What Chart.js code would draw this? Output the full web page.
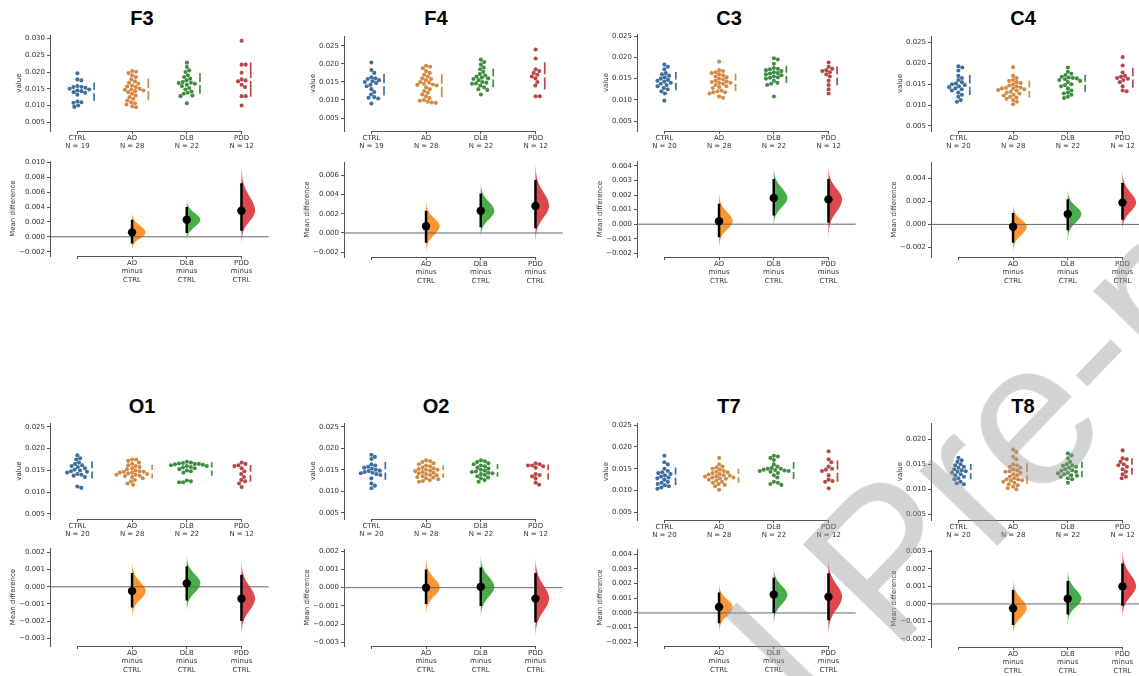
<!DOCTYPE html>
<html lang="en">
<head>
<meta charset="UTF-8"/>
<title>EEG relative power – estimation plots</title>
<style>
  body { margin: 0; width: 1139px; height: 676px; overflow: hidden; position: relative; background: #fff; font-family: 'DejaVu Sans', sans-serif; }
  canvas { position: absolute; }
  .title { position: absolute; width: 80px; margin-left: -40px; height: 22px; line-height: 22px; text-align: center; font: bold 20px 'Liberation Sans', Arial, sans-serif; color: #000; }
  .watermark { position: absolute; left: 885px; top: 560px; transform: translate(-50%, -50%) rotate(-46deg); font: 205px 'Liberation Sans', Arial, sans-serif; color: rgba(150,150,150,0.42); white-space: nowrap; pointer-events: none; z-index: 5; }
</style>
<script src="https://cdn.jsdelivr.net/npm/chart.js"></script>
</head>
<body>
<div class="watermark">Journal Pre-proof</div>
<script>
const groupNames = ['CTRL', 'AD', 'DLB', 'PDD'];
const deltaNames = ['AD', 'DLB', 'PDD'];

// F3
const f3Ctrl = [0.0196, 0.0178, 0.0175, 0.0158, 0.0156, 0.0155, 0.0153, 0.0150, 0.0148, 0.0145, 0.0143, 0.0140, 0.0138, 0.0132, 0.0112, 0.0110, 0.0108, 0.0100, 0.0096];
const f3Ad = [0.0203, 0.0201, 0.0197, 0.0190, 0.0185, 0.0178, 0.0172, 0.0168, 0.0165, 0.0160, 0.0157, 0.0155, 0.0150, 0.0148, 0.0147, 0.0145, 0.0143, 0.0140, 0.0135, 0.0130, 0.0125, 0.0120, 0.0115, 0.0110, 0.0107, 0.0103, 0.0098, 0.0095];
const f3Dlb = [0.0228, 0.0215, 0.0205, 0.0200, 0.0190, 0.0185, 0.0180, 0.0175, 0.0170, 0.0168, 0.0167, 0.0165, 0.0162, 0.0158, 0.0152, 0.0148, 0.0142, 0.0138, 0.0135, 0.0130, 0.0128, 0.0107];
const f3Pdd = [0.0293, 0.0222, 0.0222, 0.0198, 0.0178, 0.0175, 0.0172, 0.0162, 0.0155, 0.0128, 0.0128, 0.0100];
const f3Diff = [0.0006, 0.0023, 0.0035];
const f3Low = [-0.0009, 0.0005, 0.0008];
const f3High = [0.0023, 0.0040, 0.0072];
const f3ValueTicks = [0.005, 0.010, 0.015, 0.020, 0.025, 0.030];
const f3DiffTicks = [-0.002, 0.000, 0.002, 0.004, 0.006, 0.008, 0.010];

// F4
const f4Ctrl = [0.0204, 0.0183, 0.0175, 0.0163, 0.0160, 0.0158, 0.0155, 0.0152, 0.0150, 0.0147, 0.0142, 0.0138, 0.0130, 0.0122, 0.0115, 0.0108, 0.0106, 0.0104, 0.0090];
const f4Ad = [0.0195, 0.0192, 0.0188, 0.0180, 0.0175, 0.0170, 0.0165, 0.0160, 0.0158, 0.0155, 0.0150, 0.0148, 0.0145, 0.0143, 0.0142, 0.0140, 0.0135, 0.0130, 0.0125, 0.0120, 0.0115, 0.0110, 0.0105, 0.0100, 0.0098, 0.0095, 0.0093, 0.0092];
const f4Dlb = [0.0212, 0.0205, 0.0198, 0.0190, 0.0185, 0.0178, 0.0172, 0.0168, 0.0165, 0.0162, 0.0160, 0.0158, 0.0155, 0.0150, 0.0148, 0.0146, 0.0145, 0.0140, 0.0135, 0.0130, 0.0128, 0.0115];
const f4Pdd = [0.0240, 0.0215, 0.0185, 0.0180, 0.0175, 0.0170, 0.0165, 0.0160, 0.0150, 0.0140, 0.0110, 0.0110];
const f4Diff = [0.0007, 0.0023, 0.0028];
const f4Low = [-0.0010, 0.0006, 0.0005];
const f4High = [0.0023, 0.0041, 0.0055];
const f4ValueTicks = [0.005, 0.010, 0.015, 0.020, 0.025];
const f4DiffTicks = [-0.002, 0.000, 0.002, 0.004, 0.006];

// C3
const c3Ctrl = [0.0183, 0.0178, 0.0172, 0.0163, 0.0160, 0.0157, 0.0153, 0.0150, 0.0147, 0.0145, 0.0143, 0.0140, 0.0138, 0.0135, 0.0132, 0.0128, 0.0125, 0.0120, 0.0115, 0.0098];
const c3Ad = [0.0190, 0.0170, 0.0168, 0.0165, 0.0163, 0.0160, 0.0158, 0.0155, 0.0153, 0.0150, 0.0148, 0.0145, 0.0143, 0.0142, 0.0140, 0.0140, 0.0138, 0.0135, 0.0132, 0.0130, 0.0128, 0.0122, 0.0120, 0.0118, 0.0118, 0.0115, 0.0108, 0.0105];
const c3Dlb = [0.0198, 0.0195, 0.0185, 0.0175, 0.0173, 0.0172, 0.0170, 0.0168, 0.0165, 0.0163, 0.0162, 0.0160, 0.0158, 0.0155, 0.0153, 0.0152, 0.0150, 0.0145, 0.0140, 0.0138, 0.0135, 0.0108];
const c3Pdd = [0.0188, 0.0178, 0.0173, 0.0170, 0.0168, 0.0165, 0.0160, 0.0155, 0.0145, 0.0135, 0.0125, 0.0115];
const c3Diff = [0.0002, 0.0018, 0.0017];
const c3Low = [-0.0009, 0.0006, 0.0001];
const c3High = [0.0014, 0.0031, 0.0031];
const c3ValueTicks = [0.005, 0.010, 0.015, 0.020, 0.025];
const c3DiffTicks = [-0.002, -0.001, 0.000, 0.001, 0.002, 0.003, 0.004];

// C4
const c4Ctrl = [0.0193, 0.0190, 0.0183, 0.0170, 0.0165, 0.0160, 0.0155, 0.0152, 0.0150, 0.0148, 0.0145, 0.0143, 0.0140, 0.0138, 0.0135, 0.0130, 0.0125, 0.0120, 0.0112, 0.0108];
const c4Ad = [0.0191, 0.0170, 0.0165, 0.0160, 0.0158, 0.0155, 0.0153, 0.0150, 0.0147, 0.0145, 0.0142, 0.0141, 0.0140, 0.0140, 0.0138, 0.0136, 0.0135, 0.0132, 0.0130, 0.0128, 0.0125, 0.0123, 0.0120, 0.0118, 0.0115, 0.0112, 0.0108, 0.0102];
const c4Dlb = [0.0190, 0.0180, 0.0175, 0.0172, 0.0168, 0.0166, 0.0165, 0.0164, 0.0162, 0.0160, 0.0158, 0.0155, 0.0150, 0.0148, 0.0145, 0.0140, 0.0135, 0.0130, 0.0128, 0.0125, 0.0120, 0.0117];
const c4Pdd = [0.0215, 0.0195, 0.0178, 0.0170, 0.0168, 0.0165, 0.0163, 0.0160, 0.0155, 0.0145, 0.0135, 0.0133];
const c4Diff = [-0.0002, 0.0009, 0.0019];
const c4Low = [-0.0016, -0.0005, 0.0004];
const c4High = [0.0010, 0.0022, 0.0036];
const c4ValueTicks = [0.005, 0.010, 0.015, 0.020, 0.025];
const c4DiffTicks = [-0.002, 0.000, 0.002, 0.004];

// O1
const o1Ctrl = [0.0185, 0.0178, 0.0175, 0.0168, 0.0165, 0.0162, 0.0160, 0.0158, 0.0155, 0.0152, 0.0150, 0.0148, 0.0147, 0.0145, 0.0142, 0.0140, 0.0138, 0.0135, 0.0113, 0.0110];
const o1Ad = [0.0175, 0.0175, 0.0172, 0.0168, 0.0165, 0.0162, 0.0160, 0.0158, 0.0155, 0.0153, 0.0150, 0.0148, 0.0147, 0.0147, 0.0145, 0.0145, 0.0143, 0.0142, 0.0140, 0.0140, 0.0138, 0.0137, 0.0135, 0.0132, 0.0128, 0.0125, 0.0120, 0.0117];
const o1Dlb = [0.0170, 0.0168, 0.0167, 0.0166, 0.0165, 0.0165, 0.0164, 0.0163, 0.0162, 0.0160, 0.0160, 0.0158, 0.0157, 0.0155, 0.0153, 0.0150, 0.0148, 0.0145, 0.0127, 0.0125, 0.0123, 0.0123];
const o1Pdd = [0.0168, 0.0165, 0.0162, 0.0160, 0.0155, 0.0148, 0.0142, 0.0135, 0.0128, 0.0125, 0.0120, 0.0112];
const o1Diff = [-0.00025, 0.0002, -0.0007];
const o1Low = [-0.0012, -0.0008, -0.0020];
const o1High = [0.0008, 0.0012, 0.0007];
const o1ValueTicks = [0.005, 0.010, 0.015, 0.020, 0.025];
const o1DiffTicks = [-0.003, -0.002, -0.001, 0.000, 0.001, 0.002];

// O2
const o2Ctrl = [0.0185, 0.0180, 0.0175, 0.0163, 0.0160, 0.0157, 0.0155, 0.0153, 0.0150, 0.0148, 0.0147, 0.0145, 0.0143, 0.0142, 0.0140, 0.0138, 0.0130, 0.0118, 0.0113, 0.0107];
const o2Ad = [0.0172, 0.0170, 0.0168, 0.0165, 0.0163, 0.0160, 0.0158, 0.0155, 0.0153, 0.0152, 0.0150, 0.0150, 0.0148, 0.0147, 0.0145, 0.0143, 0.0142, 0.0140, 0.0138, 0.0137, 0.0135, 0.0133, 0.0132, 0.0130, 0.0128, 0.0126, 0.0124, 0.0122];
const o2Dlb = [0.0172, 0.0170, 0.0168, 0.0165, 0.0163, 0.0160, 0.0158, 0.0155, 0.0153, 0.0150, 0.0148, 0.0146, 0.0145, 0.0143, 0.0142, 0.0140, 0.0138, 0.0135, 0.0132, 0.0130, 0.0126, 0.0122];
const o2Pdd = [0.0165, 0.0163, 0.0160, 0.0160, 0.0158, 0.0155, 0.0140, 0.0138, 0.0135, 0.0130, 0.0120, 0.0115];
const o2Diff = [0.0000, 0.00005, -0.0006];
const o2Low = [-0.0009, -0.0010, -0.0019];
const o2High = [0.0010, 0.0011, 0.0008];
const o2ValueTicks = [0.005, 0.010, 0.015, 0.020, 0.025];
const o2DiffTicks = [-0.003, -0.002, -0.001, 0.000, 0.001, 0.002];

// T7
const t7Ctrl = [0.0180, 0.0165, 0.0160, 0.0150, 0.0145, 0.0142, 0.0140, 0.0138, 0.0135, 0.0132, 0.0130, 0.0128, 0.0125, 0.0120, 0.0118, 0.0115, 0.0112, 0.0110, 0.0107, 0.0104];
const t7Ad = [0.0175, 0.0160, 0.0155, 0.0153, 0.0150, 0.0148, 0.0145, 0.0143, 0.0142, 0.0140, 0.0138, 0.0137, 0.0135, 0.0134, 0.0133, 0.0132, 0.0130, 0.0130, 0.0128, 0.0127, 0.0125, 0.0123, 0.0120, 0.0118, 0.0115, 0.0113, 0.0110, 0.0102];
const t7Dlb = [0.0180, 0.0178, 0.0175, 0.0170, 0.0160, 0.0155, 0.0152, 0.0150, 0.0150, 0.0148, 0.0147, 0.0146, 0.0145, 0.0145, 0.0143, 0.0140, 0.0135, 0.0130, 0.0120, 0.0118, 0.0115, 0.0113];
const t7Pdd = [0.0190, 0.0172, 0.0165, 0.0155, 0.0150, 0.0148, 0.0145, 0.0135, 0.0125, 0.0122, 0.0120, 0.0105];
const t7Diff = [0.0004, 0.00125, 0.0011];
const t7Low = [-0.0007, 0.0000, -0.0005];
const t7High = [0.0014, 0.0024, 0.0027];
const t7ValueTicks = [0.005, 0.010, 0.015, 0.020, 0.025];
const t7DiffTicks = [-0.002, -0.001, 0.000, 0.001, 0.002, 0.003, 0.004];

// T8
const t8Ctrl = [0.0163, 0.0158, 0.0155, 0.0150, 0.0148, 0.0145, 0.0143, 0.0140, 0.0138, 0.0136, 0.0135, 0.0133, 0.0130, 0.0128, 0.0125, 0.0122, 0.0120, 0.0115, 0.0112, 0.0110];
const t8Ad = [0.0180, 0.0175, 0.0165, 0.0160, 0.0150, 0.0148, 0.0145, 0.0143, 0.0140, 0.0138, 0.0136, 0.0135, 0.0133, 0.0130, 0.0128, 0.0125, 0.0122, 0.0120, 0.0120, 0.0118, 0.0117, 0.0115, 0.0113, 0.0110, 0.0108, 0.0105, 0.0102, 0.0100];
const t8Dlb = [0.0172, 0.0168, 0.0162, 0.0155, 0.0150, 0.0148, 0.0147, 0.0145, 0.0143, 0.0140, 0.0138, 0.0137, 0.0135, 0.0133, 0.0132, 0.0130, 0.0128, 0.0127, 0.0125, 0.0122, 0.0120, 0.0113];
const t8Pdd = [0.0178, 0.0162, 0.0160, 0.0155, 0.0150, 0.0148, 0.0145, 0.0140, 0.0135, 0.0130, 0.0125, 0.0122];
const t8Diff = [-0.00025, 0.0003, 0.0010];
const t8Low = [-0.0012, -0.0006, -0.0001];
const t8High = [0.0008, 0.0013, 0.0023];
const t8ValueTicks = [0.005, 0.010, 0.015, 0.020];
const t8DiffTicks = [-0.002, -0.001, 0.000, 0.001, 0.002, 0.003];

// half-violin outline (z in SD units, relative width)
const violinZ = [-3.2, -2.8, -2.4, -2.0, -1.6, -1.2, -0.8, -0.4, 0, 0.4, 0.8, 1.2, 1.6, 2.0, 2.4, 2.8, 3.2];
const violinW = [0.00, 0.02, 0.06, 0.14, 0.28, 0.49, 0.73, 0.92, 1.00, 0.92, 0.73, 0.49, 0.28, 0.14, 0.06, 0.02, 0.00];

const swarmColors = ['#3e6f9e', '#d38a45', '#3f8e40', '#b54848'];
const diffColors = ['rgba(255,140,30,0.92)', 'rgba(56,166,58,0.92)', 'rgba(218,56,62,0.92)'];
const FONT = "'DejaVu Sans', sans-serif";
const AXIS = '#555';
const TEXT = '#333';

const panels = [
  { name: 'F3', ax: 50, ty: 18, groups: [f3Ctrl, f3Ad, f3Dlb, f3Pdd], diff: f3Diff, low: f3Low, high: f3High, vTicks: f3ValueTicks, dTicks: f3DiffTicks, vBox: [35, 131], vRange: [0.00241, 0.03098], dBox: [161, 256], dRange: [-0.00258, 0.01017] },
  { name: 'F4', ax: 344, ty: 18, groups: [f4Ctrl, f4Ad, f4Dlb, f4Pdd], diff: f4Diff, low: f4Low, high: f4High, vTicks: f4ValueTicks, dTicks: f4DiffTicks, vBox: [36, 131], vRange: [0.0014, 0.02768], dBox: [162, 257], dRange: [-0.00249, 0.00734] },
  { name: 'C3', ax: 637, ty: 18, groups: [c3Ctrl, c3Ad, c3Dlb, c3Pdd], diff: c3Diff, low: c3Low, high: c3High, vTicks: c3ValueTicks, dTicks: c3DiffTicks, vBox: [34, 131], vRange: [0.00265, 0.02547], dBox: [161, 257], dRange: [-0.00225, 0.00432] },
  { name: 'C4', ax: 931, ty: 18, groups: [c4Ctrl, c4Ad, c4Dlb, c4Pdd], diff: c4Diff, low: c4Low, high: c4High, vTicks: c4ValueTicks, dTicks: c4DiffTicks, vBox: [36, 131], vRange: [0.0038, 0.02651], dBox: [162, 257], dRange: [-0.00284, 0.00542] },
  { name: 'O1', ax: 50, ty: 406, groups: [o1Ctrl, o1Ad, o1Dlb, o1Pdd], diff: o1Diff, low: o1Low, high: o1High, vTicks: o1ValueTicks, dTicks: o1DiffTicks, vBox: [423, 519], vRange: [0.00385, 0.02585], dBox: [548, 646], dRange: [-0.00345, 0.00225] },
  { name: 'O2', ax: 344, ty: 406, groups: [o2Ctrl, o2Ad, o2Dlb, o2Pdd], diff: o2Diff, low: o2Low, high: o2High, vTicks: o2ValueTicks, dTicks: o2DiffTicks, vBox: [423, 519], vRange: [0.00353, 0.02586], dBox: [549, 646], dRange: [-0.0032, 0.00211] },
  { name: 'T7', ax: 637, ty: 406, groups: [t7Ctrl, t7Ad, t7Dlb, t7Pdd], diff: t7Diff, low: t7Low, high: t7High, vTicks: t7ValueTicks, dTicks: t7DiffTicks, vBox: [423, 520], vRange: [0.00324, 0.02546], dBox: [549, 646], dRange: [-0.00225, 0.00434] },
  { name: 'T8', ax: 931, ty: 406, groups: [t8Ctrl, t8Ad, t8Dlb, t8Pdd], diff: t8Diff, low: t8Low, high: t8High, vTicks: t8ValueTicks, dTicks: t8DiffTicks, vBox: [423, 520], vRange: [0.0038, 0.02327], dBox: [550, 647], dRange: [-0.00245, 0.00306] }
];

const fmt = v => (v < -1e-9 ? '\u2212' : '') + Math.abs(v).toFixed(3);

function addCanvas(left, top, w, h) {
  const c = document.createElement('canvas');
  c.width = w; c.height = h;
  c.style.left = left + 'px'; c.style.top = top + 'px';
  c.style.width = w + 'px'; c.style.height = h + 'px';
  document.body.appendChild(c);
  return c;
}

function yAxis(range, ticks, title, width) {
  return {
    type: 'linear', min: range[0], max: range[1],
    afterBuildTicks: s => { s.ticks = ticks.map(v => ({ value: v })); },
    afterFit: s => { s.width = width; },
    ticks: { callback: v => fmt(v), font: { family: FONT, size: 7 }, color: TEXT, padding: 2, autoSkip: false },
    grid: { display: true, drawOnChartArea: false, drawTicks: true, tickLength: 3, color: AXIS },
    border: { display: true, color: AXIS, width: 1 },
    title: { display: true, text: title, font: { family: FONT, size: 7 }, color: TEXT, padding: { top: 4, bottom: 0 } }
  };
}

function xAxis(labels, height) {
  return {
    type: 'linear', min: -0.5, max: 3.5,
    afterBuildTicks: s => { s.ticks = [0, 1, 2, 3].map(v => ({ value: v })); },
    afterFit: s => { s.height = height; },
    ticks: { callback: (v, i) => labels[i], font: { family: FONT, size: 7, lineHeight: 1.2 }, color: TEXT, padding: 0, maxRotation: 0, autoSkip: false },
    grid: { display: true, drawOnChartArea: false, drawTicks: true, tickLength: 3, color: AXIS },
    border: { display: false }
  };
}

// x spine trimmed to first..last category, like the original
const spinePlugin = {
  id: 'spine',
  afterDraw(chart) {
    const xs = chart.scales.x, ctx = chart.ctx;
    const y0 = Math.round(chart.chartArea.bottom) + 0.5;
    ctx.save();
    ctx.strokeStyle = AXIS; ctx.lineWidth = 1;
    ctx.beginPath();
    ctx.moveTo(xs.getPixelForValue(0), y0);
    ctx.lineTo(xs.getPixelForValue(3), y0);
    ctx.stroke();
    ctx.restore();
  }
};

function swarmOffsets(ys, d) {
  const order = ys.map((y, i) => i).sort((a, b) => ys[a] - ys[b]);
  const placed = [];
  const out = new Array(ys.length);
  order.forEach(i => {
    const y = ys[i];
    const near = placed.filter(p => Math.abs(p.y - y) < d);
    const cands = [0];
    near.forEach(p => {
      const dx = Math.sqrt(d * d - (p.y - y) * (p.y - y));
      cands.push(p.x - dx, p.x + dx);
    });
    cands.sort((a, b) => Math.abs(a) - Math.abs(b) || b - a);
    const x = cands.find(c => near.every(p => (p.x - c) ** 2 + (p.y - y) ** 2 >= d * d - 1e-6));
    out[i] = x;
    placed.push({ x, y });
  });
  return out;
}

const meanOf = a => a.reduce((s, v) => s + v, 0) / a.length;
const sdOf = a => { const m = meanOf(a); return Math.sqrt(a.reduce((s, v) => s + (v - m) ** 2, 0) / (a.length - 1)); };

function drawValuePanel(p) {
  const W = 39, H = 26, pad = 6;
  const c = addCanvas(p.ax - W, p.vBox[0] - pad, W + 223, pad + (p.vBox[1] - p.vBox[0]) + H);
  const xLabels = p.groups.map((g, i) => [groupNames[i], 'N = ' + g.length]);
  const datasets = [];
  p.groups.forEach((g, i) => {
    datasets.push({ type: 'scatter', data: g.map(v => ({ x: i, y: v })), pointRadius: 2.05, pointBackgroundColor: swarmColors[i], pointBorderWidth: 0, order: 0 });
  });
  p.groups.forEach((g, i) => {
    datasets.push({ type: 'line', data: [], borderColor: swarmColors[i], borderWidth: 1.7, pointRadius: 0, order: 1 });
    datasets.push({ type: 'line', data: [], borderColor: swarmColors[i], borderWidth: 1.7, pointRadius: 0, order: 1 });
  });
  const chart = new Chart(c, {
    type: 'scatter',
    data: { datasets },
    options: {
      responsive: false, animation: false, events: [],
      layout: { padding: { top: pad, left: 0, right: 0, bottom: 0 } },
      plugins: { legend: { display: false }, tooltip: { enabled: false } },
      scales: { x: xAxis(xLabels, H), y: yAxis(p.vRange, p.vTicks, 'value', W) }
    },
    plugins: [spinePlugin]
  });
  // swarm layout in pixel space, then back to data units
  const xs = chart.scales.x, ys = chart.scales.y;
  const pxPerX = xs.getPixelForValue(1) - xs.getPixelForValue(0);
  const pxPerY = (ys.getPixelForValue(p.vRange[0]) - ys.getPixelForValue(p.vRange[1])) / (p.vRange[1] - p.vRange[0]);
  p.groups.forEach((g, i) => {
    const offs = swarmOffsets(g.map(v => ys.getPixelForValue(v)), 4.1);
    datasets[i].data = g.map((v, k) => ({ x: i + offs[k] / pxPerX, y: v }));
    const lx = i + (Math.max(...offs) + 5) / pxPerX;
    const m = meanOf(g), s = sdOf(g), gap = 1.6 / pxPerY;
    datasets[4 + i * 2].data = [{ x: lx, y: m - s }, { x: lx, y: m - gap }];
    datasets[5 + i * 2].data = [{ x: lx, y: m + gap }, { x: lx, y: m + s }];
  });
  chart.update('none');
}

function drawDiffPanel(p) {
  const W = 45, H = 32, pad = 6;
  const c = addCanvas(p.ax - W, p.dBox[0] - pad, W + 223, pad + (p.dBox[1] - p.dBox[0]) + H);
  const xLabels = [''].concat(deltaNames.map(n => [n, 'minus', 'CTRL']));
  const datasets = [];
  p.diff.forEach((m, i) => {
    const cat = i + 1;
    const sdLo = (m - p.low[i]) / 1.96, sdHi = (p.high[i] - m) / 1.96;
    datasets.push({
      type: 'line',
      data: violinZ.map((z, k) => ({ x: cat + violinW[k] * 0.25, y: m + z * (z < 0 ? sdLo : sdHi) })),
      borderWidth: 0, borderColor: 'rgba(0,0,0,0)', backgroundColor: diffColors[i], fill: 'shape', tension: 0.3, pointRadius: 0, order: 4
    });
  });
  datasets.push({ type: 'line', data: [{ x: -0.5, y: 0 }, { x: 3.5, y: 0 }], borderColor: '#666', borderWidth: 1, pointRadius: 0, order: 3 });
  p.diff.forEach((m, i) => {
    datasets.push({ type: 'line', data: [{ x: i + 1, y: p.low[i] }, { x: i + 1, y: p.high[i] }], borderColor: '#000', borderWidth: 2.5, pointRadius: 0, order: 2 });
  });
  datasets.push({ type: 'scatter', data: p.diff.map((m, i) => ({ x: i + 1, y: m })), pointRadius: 4.2, pointBackgroundColor: '#000', pointBorderWidth: 0, order: 1 });
  new Chart(c, {
    type: 'scatter',
    data: { datasets },
    options: {
      responsive: false, animation: false, events: [],
      layout: { padding: { top: pad, left: 0, right: 0, bottom: 0 } },
      plugins: { legend: { display: false }, tooltip: { enabled: false } },
      scales: { x: xAxis(xLabels, H), y: yAxis(p.dRange, p.dTicks, 'Mean difference', W) }
    },
    plugins: [spinePlugin]
  });
}

panels.forEach(p => {
  const t = document.createElement('div');
  t.className = 'title';
  t.textContent = p.name;
  t.style.left = (p.ax + 92) + 'px';
  t.style.top = (p.ty - 11) + 'px';
  document.body.appendChild(t);
  drawValuePanel(p);
  drawDiffPanel(p);
});
</script>
</body>
</html>
